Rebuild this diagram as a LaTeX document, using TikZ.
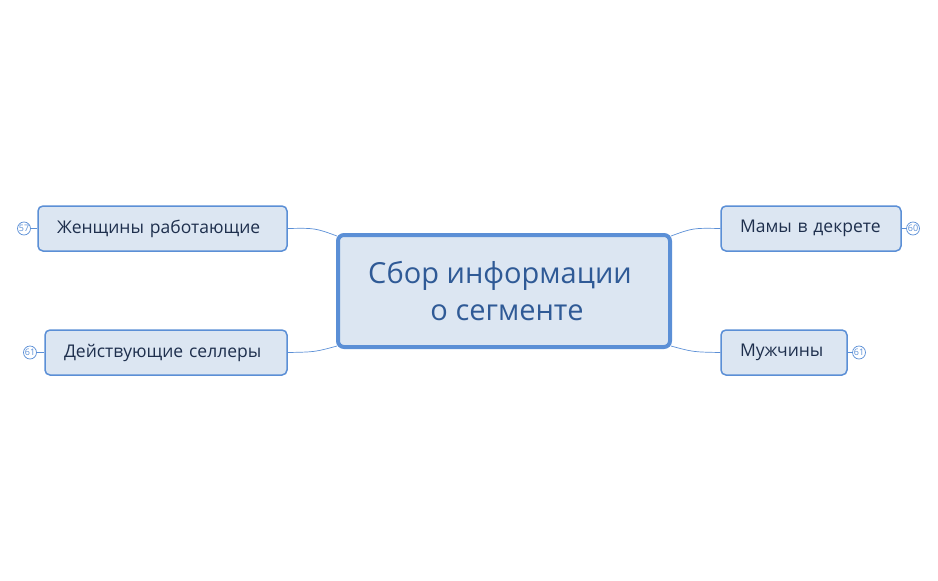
\documentclass[tikz,border=0pt]{standalone}
\usepackage{fontspec}
\setmainfont{Open Sans}
\definecolor{bfill}{HTML}{DCE6F2}
\definecolor{bdraw}{HTML}{5B8FD6}
\definecolor{txt}{HTML}{1E2F4D}
\definecolor{ctxt}{HTML}{2F5A96}
\begin{document}
\begin{tikzpicture}[x=1pt,y=-1pt,
  topic/.style={draw=bdraw,fill=bfill,line width=1.5pt,rounded corners=5pt,text=txt,font=\fontsize{17.5}{20}\selectfont,inner xsep=0pt,inner ysep=0pt,minimum height=45pt,align=left},
  badge/.style={draw=bdraw,circle,inner sep=0pt,minimum size=13pt,font=\fontsize{9}{9}\selectfont,text=bdraw,line width=0.7pt},
  link/.style={draw=bdraw,line width=0.7pt}]
\useasboundingbox (0,0) rectangle (938,581);
\node[draw=bdraw,fill=bfill,line width=4pt,rounded corners=6pt,minimum width=332pt,minimum height=112pt,text=ctxt,font=\fontsize{29}{37}\selectfont,align=center] (c) at (504,291) {\hspace*{-8pt}Сбор информации\\\hspace*{6pt}о сегменте};
\node[topic,text width=211pt,minimum width=249pt] (w) at (162.5,228.5) {Женщины работающие};
\node[topic,text width=204pt,minimum width=242pt] (s) at (166,352.5) {Действующие селлеры};
\node[topic,text width=142pt,minimum width=180pt] (m) at (811,228.5) {Мамы в декрете};
\node[topic,text width=88pt,minimum width=126pt] (mu) at (784,352.5) {Мужчины};
\node[badge] (b1) at (24,228.5) {57};
\node[badge] (b2) at (30,352.5) {61};
\node[badge] (b3) at (913,228.5) {60};
\node[badge] (b4) at (859,352.5) {61};
\draw[link] (b1) -- (w.west);
\draw[link] (b2) -- (s.west);
\draw[link] (b3) -- (m.east);
\draw[link] (b4) -- (mu.east);
\coordinate (c1) at (337,236);
\coordinate (c2) at (337,346);
\coordinate (c3) at (671,236);
\coordinate (c4) at (671,346);
\draw[link] (w.east) .. controls (315,228) .. (c1);
\draw[link] (s.east) .. controls (315,352) .. (c2);
\draw[link] (m.west) .. controls (693,228) .. (c3);
\draw[link] (mu.west) .. controls (693,352) .. (c4);
\end{tikzpicture}
\end{document}
